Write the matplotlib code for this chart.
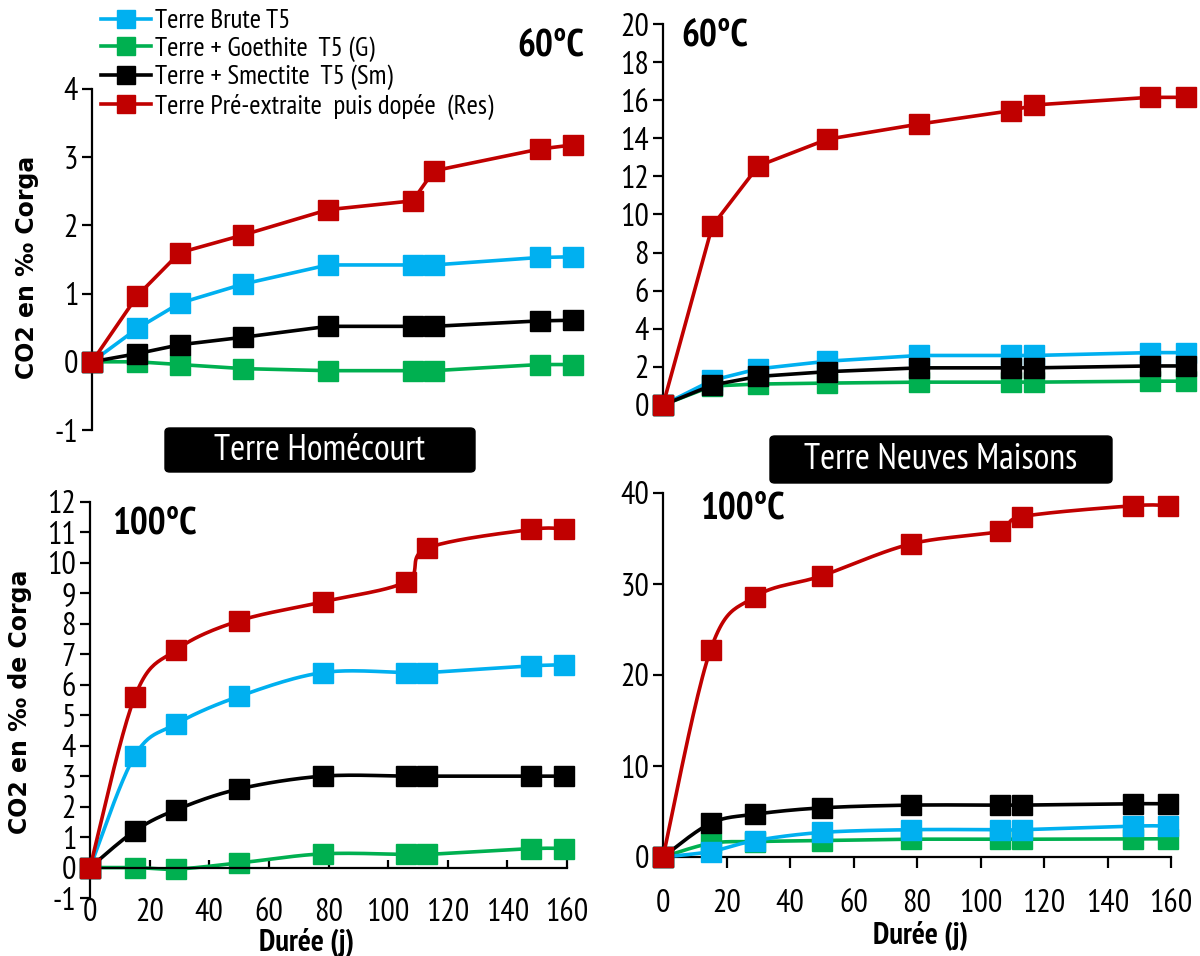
import numpy as np
import matplotlib
matplotlib.use("Agg")
import matplotlib.pyplot as plt
from matplotlib import font_manager
from matplotlib.patches import FancyBboxPatch

# ---------------- data ----------------
days = [0, 15, 29, 50, 78, 106, 113, 148, 159]
series_names = ["Terre Brute T5", "Terre + Goethite  T5 (G)",
                "Terre + Smectite  T5 (Sm)", "Terre Pré-extraite  puis dopée  (Res)"]
colors = ["#00B0F0", "#00B050", "#000000", "#C00000"]

# Homécourt 60°C
hom60_brute = [0, 0.49, 0.86, 1.14, 1.42, 1.42, 1.42, 1.53, 1.54]
hom60_goeth = [0, 0.0, -0.04, -0.10, -0.13, -0.13, -0.13, -0.04, -0.04]
hom60_smect = [0, 0.12, 0.25, 0.36, 0.52, 0.52, 0.52, 0.60, 0.61]
hom60_res = [0, 0.97, 1.60, 1.86, 2.23, 2.36, 2.80, 3.12, 3.18]

# Neuves Maisons 60°C
nm60_brute = [0, 1.3, 1.9, 2.3, 2.6, 2.6, 2.6, 2.75, 2.75]
nm60_goeth = [0, 1.0, 1.1, 1.15, 1.2, 1.2, 1.2, 1.25, 1.25]
nm60_smect = [0, 1.05, 1.5, 1.75, 1.95, 1.95, 1.95, 2.05, 2.05]
nm60_res = [0, 9.4, 12.55, 13.95, 14.75, 15.45, 15.75, 16.15, 16.15]

# Homécourt 100°C
hom100_brute = [0, 3.67, 4.72, 5.62, 6.40, 6.40, 6.40, 6.62, 6.65]
hom100_goeth = [0, 0.0, -0.05, 0.15, 0.45, 0.43, 0.43, 0.62, 0.62]
hom100_smect = [0, 1.2, 1.9, 2.58, 3.0, 3.0, 3.0, 3.0, 3.0]
hom100_res = [0, 5.6, 7.15, 8.1, 8.72, 9.38, 10.48, 11.1, 11.1]

# Neuves Maisons 100°C
nm100_brute = [0, 0.6, 1.8, 2.7, 3.0, 3.0, 3.0, 3.4, 3.4]
nm100_goeth = [0, 1.5, 1.7, 1.8, 1.95, 1.95, 1.95, 2.0, 2.0]
nm100_smect = [0, 3.7, 4.7, 5.4, 5.7, 5.7, 5.7, 5.85, 5.85]
nm100_res = [0, 22.8, 28.6, 30.9, 34.4, 35.8, 37.4, 38.6, 38.6]

# ---------------- fonts ----------------
avail = {f.name for f in font_manager.fontManager.ttflist}
narrow = "PT Sans Narrow" if "PT Sans Narrow" in avail else "Roboto Condensed"
plt.rcParams['font.family'] = [narrow, 'DejaVu Sans']
plt.rcParams['axes.unicode_minus'] = False
WIDE = ['DejaVu Sans']

W, H = 1200, 956
fig = plt.figure(figsize=(W / 100, H / 100), dpi=100)


def fx(px):
    return px / W


def fy(py):
    return 1 - py / H


def add_ax(x0, x1, ytop, ybot):
    return fig.add_axes([fx(x0), fy(ybot), fx(x1 - x0), (ybot - ytop) / H])


def smooth(x, y, n=25):
    p = np.column_stack([x, y]).astype(float)
    out = [p[0]]
    m = len(p)
    t = np.linspace(0, 1, n)[1:, None]
    for i in range(m - 1):
        p0 = p[max(i - 1, 0)]
        p1 = p[i]
        p2 = p[i + 1]
        p3 = p[min(i + 2, m - 1)]
        c1 = p1 + (p2 - p0) / 6
        c2 = p2 - (p3 - p1) / 6
        seg = ((1 - t) ** 3) * p1 + 3 * ((1 - t) ** 2) * t * c1 + 3 * (1 - t) * t ** 2 * c2 + t ** 3 * p2
        out.extend(seg)
    out = np.array(out)
    return out[:, 0], out[:, 1]


zorders = [3, 2, 4, 5]
LW = 2.6
MS = 14.5
TICK_FS = 23
TEMP_FS = 27
DUREE_FS = 22


def draw(ax, data, smoothed, labels=False):
    for i, (ys, c) in enumerate(zip(data, colors)):
        if smoothed:
            sx, sy = smooth(days, ys)
            ax.plot(sx, sy, color=c, lw=LW, zorder=zorders[i], clip_on=False)
            ax.plot(days, ys, ls='none', marker='s', ms=MS, color=c,
                    zorder=zorders[i], clip_on=False)
        else:
            ax.plot(days, ys, color=c, lw=LW, marker='s', ms=MS, zorder=zorders[i],
                    clip_on=False, label=series_names[i] if labels else None)


def style(ax, xaxis):
    ax.spines['top'].set_visible(False)
    ax.spines['right'].set_visible(False)
    ax.spines['left'].set_linewidth(1.6)
    ax.tick_params(axis='y', direction='out', length=7, width=1.6, labelsize=TICK_FS, pad=3)
    ax.set_xlim(0, 160)
    if not xaxis:
        ax.spines['bottom'].set_visible(False)
        ax.set_xticks([])
    else:
        ax.spines['bottom'].set_linewidth(1.6)
        ax.set_xticks(np.arange(0, 161, 20))


# Top-left
ax1 = add_ax(92, 576, 89, 430)
draw(ax1, [hom60_brute, hom60_goeth, hom60_smect, hom60_res], False, labels=True)
style(ax1, False)
ax1.set_ylim(-1, 4)
ax1.set_yticks(np.arange(-1, 5, 1))
fig.text(fx(27), fy(267), "CO2 en ‰ Corga", rotation=90, ha='center', va='center',
         fontsize=17, fontweight='bold', family=WIDE)
fig.text(fx(584), fy(46), "60°C", ha='right', va='center', fontsize=TEMP_FS, fontweight='bold')

# Top-right
ax2 = add_ax(663, 1189, 24, 405)
draw(ax2, [nm60_brute, nm60_goeth, nm60_smect, nm60_res], False)
style(ax2, False)
ax2.set_ylim(0, 20)
ax2.set_yticks(np.arange(0, 21, 2))
fig.text(fx(681), fy(36), "60°C", ha='left', va='center', fontsize=TEMP_FS, fontweight='bold')

# Bottom-left
ax3 = add_ax(90, 567, 502, 898)
draw(ax3, [hom100_brute, hom100_goeth, hom100_smect, hom100_res], True)
style(ax3, True)
ax3.set_ylim(-1, 12)
ax3.set_yticks(np.arange(-1, 13, 1))
ax3.spines['bottom'].set_position(('data', 0))
ax3.tick_params(axis='x', direction='in', length=6, width=1.6, labelsize=TICK_FS, pad=22)
fig.text(fx(20), fy(702), "CO2 en ‰ de Corga", rotation=90, ha='center', va='center',
         fontsize=17, fontweight='bold', family=WIDE)
fig.text(fx(112), fy(524), "100°C", ha='left', va='center', fontsize=TEMP_FS, fontweight='bold')
fig.text(fx(307), fy(942), "Durée (j)", ha='center', va='center', fontsize=DUREE_FS, fontweight='bold')

# Bottom-right
ax4 = add_ax(663, 1171, 493, 857)
draw(ax4, [nm100_brute, nm100_goeth, nm100_smect, nm100_res], True)
style(ax4, True)
ax4.set_ylim(0, 40)
ax4.set_yticks(np.arange(0, 41, 10))
ax4.tick_params(axis='x', direction='out', length=8, width=1.6, labelsize=TICK_FS, pad=15)
fig.text(fx(700), fy(509), "100°C", ha='left', va='center', fontsize=TEMP_FS, fontweight='bold')
fig.text(fx(921), fy(935), "Durée (j)", ha='center', va='center', fontsize=DUREE_FS, fontweight='bold')

# Soil name boxes
for (x0, x1, y0, y1, label) in [(165, 475, 428, 472, "Terre Homécourt"),
                                (770, 1112, 436, 483, "Terre Neuves Maisons")]:
    box = FancyBboxPatch((fx(x0), fy(y1)), fx(x1 - x0), (y1 - y0) / H,
                         boxstyle="round,pad=0,rounding_size=0.004",
                         transform=fig.transFigure, facecolor='black',
                         edgecolor='black', zorder=10)
    fig.patches.append(box)
    fig.text(fx((x0 + x1) / 2), fy((y0 + y1) / 2), label, ha='center', va='center',
             color='white', fontsize=26, zorder=11)

# Legend
leg = ax1.legend(loc='upper left', bbox_to_anchor=(fx(101), fy(9)),
                 bbox_transform=fig.transFigure, frameon=False, fontsize=19.5,
                 handlelength=1.85, handletextpad=0.15, labelspacing=0.12,
                 borderpad=0, borderaxespad=0, markerscale=0.85)

fig.savefig("out.png", dpi=100)
